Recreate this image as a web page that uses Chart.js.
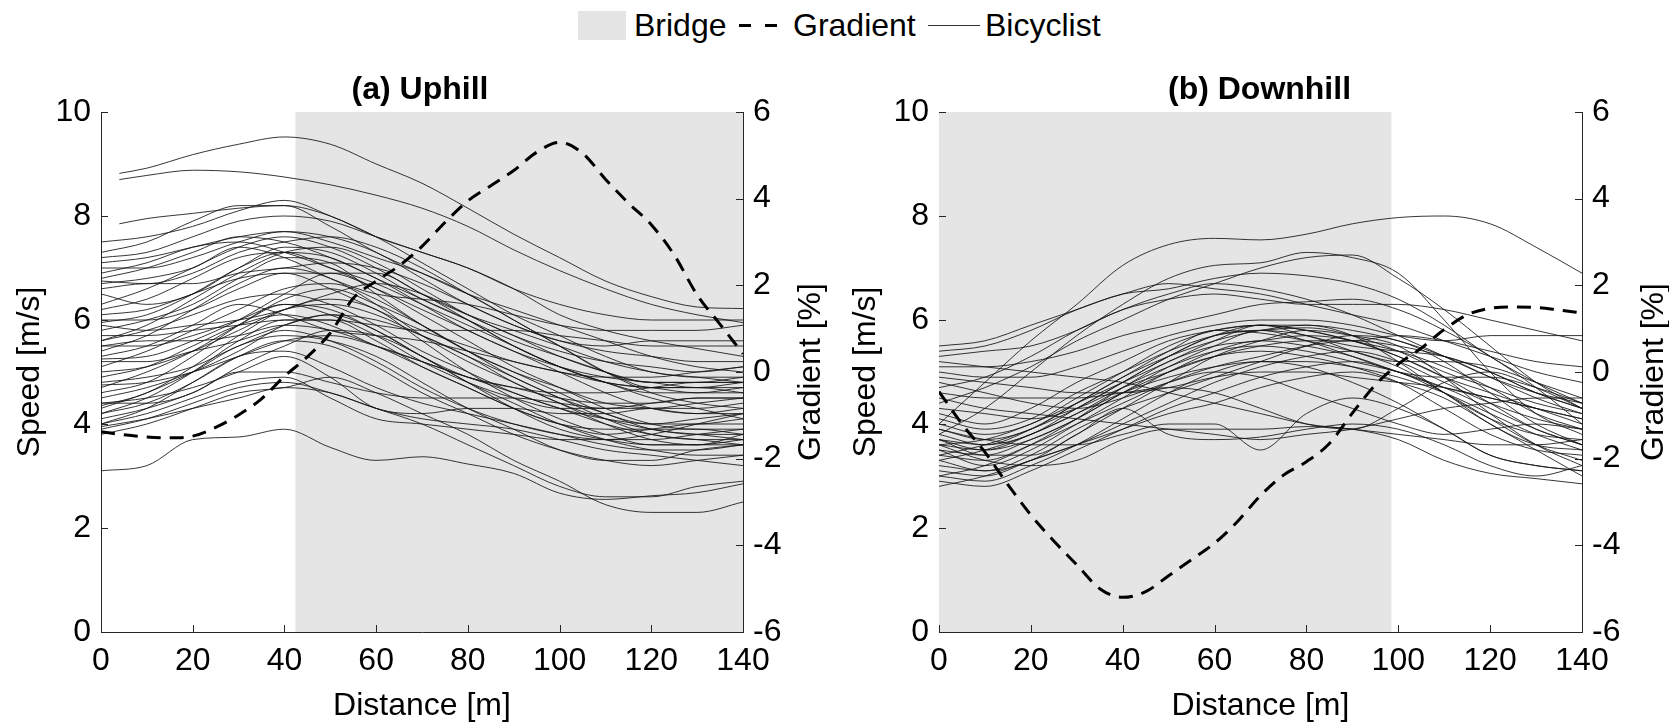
<!DOCTYPE html>
<html>
<head>
<meta charset="utf-8">
<script src="https://cdn.jsdelivr.net/npm/chart.js@4.4.1/dist/chart.umd.min.js"></script>
<style>
  html, body { margin: 0; padding: 0; background: #fff; }
  body { width: 1669px; height: 726px; position: relative; overflow: hidden; font-family: 'Liberation Sans', Arial, sans-serif; }
  canvas.panel { position: absolute; top: 0; }
  .key { position: absolute; }
  .key-text { position: absolute; top: 7px; height: 36px; line-height: 36px; font-size: 32px; color: #000; white-space: nowrap; }
</style>
</head>
<body>
<!-- shared legend above both panels -->
<div class="key" style="left:578px;top:11px;width:48px;height:29px;background:#e5e5e5"></div>
<div class="key-text" style="left:634px">Bridge</div>
<div class="key" style="left:739px;top:24px;width:12px;height:3px;background:#000"></div>
<div class="key" style="left:765px;top:24px;width:12px;height:3px;background:#000"></div>
<div class="key-text" style="left:793px">Gradient</div>
<div class="key" style="left:928px;top:25px;width:52px;height:1px;background:#333"></div>
<div class="key-text" style="left:985px">Bicyclist</div>

<canvas id="uphill" class="panel" style="left:0;width:840px;height:726px" width="840" height="726"></canvas>
<canvas id="downhill" class="panel" style="left:840px;width:829px;height:726px" width="829" height="726"></canvas>

<script>
// distance grids [m]
const DIST = [0, 10, 20, 30, 40, 50, 60, 70, 80, 90, 100, 110, 120, 130, 140];
const DIST_LATE = [4, 10, 20, 30, 40, 50, 60, 70, 80, 90, 100, 110, 120, 130, 140];
const GRAD_DIST = [0, 5, 10, 15, 20, 25, 30, 35, 40, 45, 50, 55, 60, 65, 70, 75, 80, 85, 90, 95, 100, 105, 110, 115, 120, 125, 130, 135, 140];

// bridge extent [m]
const BRIDGE_UP = [42.4, 140];
const BRIDGE_DOWN = [0, 98.5];

// gradient [%]
const GRADIENT_UP = [-1.38, -1.45, -1.5, -1.52, -1.48, -1.28, -0.99, -0.62, -0.1, 0.35, 0.9, 1.7, 2.1, 2.45, 2.9, 3.45, 3.95, 4.3, 4.65, 5.07, 5.3, 5.05, 4.45, 3.9, 3.4, 2.7, 1.78, 1.1, 0.42];
const GRADIENT_DOWN = [-0.45, -1.2, -1.85, -2.6, -3.3, -3.9, -4.45, -5.0, -5.2, -5.07, -4.7, -4.33, -3.95, -3.45, -2.85, -2.38, -2.07, -1.65, -0.95, -0.3, 0.18, 0.55, 0.98, 1.32, 1.47, 1.5, 1.49, 1.43, 1.36];

// uphill bicyclists that start a few metres in (on DIST_LATE)
const SPEED_UP_LATE = [
  [8.82, 8.92, 9.18, 9.38, 9.52, 9.38, 9.0, 8.63, 8.15, 7.65, 7.2, 6.75, 6.45, 6.25, 6.22],
  [8.7, 8.78, 8.88, 8.85, 8.75, 8.6, 8.4, 8.15, 7.8, 7.35, 6.95, 6.6, 6.3, 6.1, 5.95],
  [7.85, 7.95, 8.05, 8.15, 8.2, 8.0, 7.6, 7.3, 7.0, 6.6, 6.1, 5.8, 5.6, 5.45, 5.3]
];

// uphill bicyclists [m/s] on DIST
const SPEED_UP = [
  [7.5, 7.6, 7.8, 8.1, 8.3, 8.0, 7.6, 7.1, 6.6, 6.1, 5.7, 5.3, 5.0, 4.9, 4.8],
  [7.3, 7.5, 7.9, 8.2, 8.2, 7.8, 7.3, 6.9, 6.5, 6.2, 5.9, 5.6, 5.3, 5.1, 5.0],
  [7.2, 7.3, 7.6, 7.9, 8.0, 7.9, 7.6, 7.3, 7.0, 6.6, 6.3, 6.1, 6.0, 6.0, 6.0],
  [7.1, 7.2, 7.4, 7.6, 7.7, 7.5, 7.2, 6.9, 6.5, 6.0, 5.5, 5.0, 4.6, 4.4, 4.3],
  [7.0, 7.0, 7.2, 7.5, 7.7, 7.6, 7.3, 6.8, 6.3, 5.9, 5.6, 5.4, 5.3, 5.2, 5.2],
  [6.8, 7.0, 7.3, 7.6, 7.5, 7.2, 6.8, 6.3, 5.8, 5.4, 5.0, 4.6, 4.3, 4.2, 4.3],
  [6.75, 6.7, 6.9, 7.3, 7.5, 7.6, 7.4, 7.0, 6.5, 6.0, 5.5, 5.0, 4.8, 4.8, 4.9],
  [6.7, 6.8, 7.0, 7.4, 7.2, 6.8, 6.5, 6.4, 6.3, 6.1, 5.9, 5.8, 5.8, 5.8, 5.9],
  [6.6, 6.7, 6.7, 6.9, 7.0, 7.1, 7.0, 6.7, 6.3, 5.9, 5.6, 5.5, 5.6, 5.6, 5.6],
  [6.5, 6.3, 6.5, 7.0, 7.4, 7.3, 6.9, 6.4, 6.0, 5.6, 5.3, 5.0, 4.7, 4.7, 4.6],
  [6.9, 7.1, 7.4, 7.5, 7.3, 7.0, 6.7, 6.3, 5.9, 5.5, 5.1, 4.8, 4.6, 4.6, 4.7],
  [6.3, 6.6, 7.0, 7.4, 7.6, 7.4, 7.0, 6.5, 6.1, 5.8, 5.5, 5.2, 5.0, 4.9, 4.9],
  [6.2, 6.4, 6.8, 7.2, 7.3, 7.0, 6.6, 6.1, 5.6, 5.1, 4.7, 4.3, 4.0, 3.9, 3.9],
  [6.1, 6.2, 6.5, 6.8, 6.9, 6.6, 6.2, 5.8, 5.5, 5.2, 5.0, 4.8, 4.7, 4.7, 4.8],
  [6.0, 6.0, 6.2, 6.6, 6.9, 6.9, 6.6, 6.2, 5.8, 5.4, 5.1, 4.9, 4.8, 4.7, 4.7],
  [5.95, 6.1, 6.5, 7.0, 7.3, 7.2, 6.8, 6.4, 6.0, 5.5, 5.1, 4.8, 4.5, 4.3, 4.1],
  [5.9, 5.8, 5.9, 6.0, 6.2, 6.5, 6.7, 6.5, 6.1, 5.7, 5.4, 5.2, 5.1, 5.0, 5.1],
  [5.8, 6.0, 6.3, 6.8, 7.2, 7.1, 6.5, 5.9, 5.4, 5.0, 4.6, 4.2, 4.0, 4.1, 4.2],
  [5.7, 5.7, 5.8, 5.9, 6.0, 6.0, 5.9, 5.8, 5.8, 5.8, 5.7, 5.6, 5.5, 5.5, 5.5],
  [5.6, 5.8, 6.1, 6.4, 6.5, 6.3, 5.9, 5.4, 5.0, 4.6, 4.3, 4.0, 3.8, 3.7, 3.7],
  [5.6, 5.9, 6.4, 6.9, 7.3, 7.4, 7.1, 6.6, 6.1, 5.7, 5.3, 5.0, 4.8, 4.8, 4.8],
  [5.5, 5.5, 5.7, 6.0, 6.3, 6.2, 5.8, 5.3, 4.9, 4.7, 4.6, 4.6, 4.7, 4.8, 4.8],
  [5.5, 5.6, 5.6, 5.7, 5.9, 5.8, 5.5, 5.1, 4.7, 4.3, 4.0, 3.8, 3.9, 4.0, 4.0],
  [5.4, 5.7, 6.2, 6.7, 7.0, 6.8, 6.3, 5.7, 5.2, 4.8, 4.4, 4.1, 3.9, 3.8, 3.8],
  [5.3, 5.5, 5.9, 6.3, 6.1, 5.8, 5.7, 5.6, 5.4, 5.2, 5.0, 4.9, 4.9, 5.0, 5.1],
  [5.25, 5.3, 5.6, 6.0, 6.5, 6.9, 6.9, 6.5, 6.0, 5.5, 5.1, 4.8, 4.7, 4.6, 4.6],
  [5.2, 5.2, 5.4, 5.6, 5.9, 6.1, 6.0, 5.7, 5.3, 4.8, 4.4, 4.0, 3.7, 3.6, 3.6],
  [5.1, 5.4, 5.8, 6.2, 6.6, 6.7, 6.4, 5.9, 5.4, 5.0, 4.7, 4.4, 4.3, 4.2, 4.2],
  [5.0, 5.1, 5.4, 5.8, 6.2, 6.3, 6.1, 5.7, 5.3, 4.9, 4.5, 4.2, 3.9, 3.8, 3.7],
  [4.9, 5.1, 5.5, 5.9, 6.1, 5.9, 5.5, 5.2, 4.9, 4.7, 4.5, 4.4, 4.4, 4.5, 4.5],
  [4.8, 4.9, 5.1, 5.5, 5.8, 5.6, 5.2, 4.7, 4.3, 4.0, 3.8, 3.7, 3.7, 3.8, 3.9],
  [4.75, 4.8, 5.0, 5.3, 5.6, 5.7, 5.5, 5.2, 4.9, 4.6, 4.3, 4.1, 4.0, 4.0, 4.1],
  [4.7, 5.0, 5.4, 5.9, 6.3, 6.1, 5.7, 5.2, 4.8, 4.5, 4.3, 4.3, 4.4, 4.5, 4.5],
  [4.6, 4.8, 5.3, 5.9, 6.4, 6.6, 6.3, 5.9, 5.4, 4.9, 4.5, 4.1, 3.8, 3.7, 3.6],
  [4.5, 4.7, 5.0, 5.4, 5.9, 6.1, 5.8, 5.3, 4.8, 4.3, 3.9, 3.7, 3.6, 3.6, 3.7],
  [4.4, 4.5, 4.7, 5.0, 5.3, 4.9, 4.3, 4.2, 4.3, 4.3, 4.2, 4.2, 4.3, 4.3, 4.4],
  [4.4, 4.4, 4.6, 5.1, 5.5, 5.8, 5.7, 5.3, 4.8, 4.4, 4.0, 3.7, 3.5, 3.4, 3.4],
  [4.35, 4.6, 5.1, 5.7, 6.2, 6.4, 6.2, 5.6, 5.0, 4.5, 4.1, 3.8, 3.6, 3.6, 3.8],
  [4.3, 4.6, 5.0, 5.5, 5.7, 5.6, 5.3, 4.8, 4.3, 3.9, 3.5, 3.3, 3.3, 3.5, 3.6],
  [4.2, 4.4, 4.8, 5.3, 5.6, 5.5, 5.1, 4.6, 4.2, 3.8, 3.5, 3.3, 3.2, 3.3, 3.4],
  [4.2, 4.5, 5.0, 5.6, 6.0, 6.0, 5.6, 5.1, 4.7, 4.3, 4.0, 3.9, 3.9, 3.9, 3.8],
  [4.1, 4.3, 4.6, 5.0, 5.0, 4.8, 4.6, 4.5, 4.5, 4.5, 4.4, 4.3, 4.3, 4.4, 4.5],
  [4.0, 4.2, 4.5, 4.8, 4.9, 4.5, 4.1, 4.0, 3.9, 3.8, 3.7, 3.7, 3.8, 4.0, 4.2],
  [4.0, 4.3, 4.8, 5.3, 5.4, 5.1, 4.7, 4.4, 4.2, 4.0, 3.8, 3.6, 3.5, 3.5, 3.6],
  [3.95, 4.1, 4.3, 4.5, 4.7, 4.6, 4.3, 4.1, 4.0, 3.9, 3.7, 3.5, 3.4, 3.3, 3.2],
  [3.9, 4.1, 4.4, 4.7, 4.8, 4.6, 4.3, 4.0, 3.6, 3.2, 2.8, 2.6, 2.6, 2.8, 2.9],
  [3.8, 4.0, 4.3, 4.6, 4.7, 4.9, 4.6, 4.2, 3.8, 3.3, 2.9, 2.45, 2.3, 2.3, 2.5],
  [3.1, 3.2, 3.7, 3.75, 3.9, 3.55, 3.3, 3.37, 3.23, 3.05, 2.67, 2.55, 2.62, 2.68, 2.85]
];

// downhill bicyclists [m/s] on DIST
const SPEED_DOWN = [
  [4.0, 4.8, 5.6, 6.3, 7.05, 7.45, 7.57, 7.54, 7.65, 7.85, 7.97, 8.0, 7.85, 7.4, 6.9],
  [3.8, 4.3, 5.0, 5.7, 6.3, 6.8, 7.05, 7.1, 7.3, 7.2, 6.9, 6.0, 5.0, 4.2, 3.8],
  [4.4, 4.7, 5.1, 5.6, 6.0, 6.4, 6.7, 7.0, 7.2, 7.25, 6.8, 6.2, 5.5, 4.8, 4.3],
  [5.5, 5.6, 5.9, 6.2, 6.5, 6.6, 6.8, 6.9, 6.85, 6.7, 6.4, 5.9, 5.3, 4.8, 4.4],
  [5.4, 5.5, 5.8, 6.2, 6.5, 6.7, 6.6, 6.5, 6.3, 6.1, 5.9, 5.6, 5.3, 5.0, 4.8],
  [5.3, 5.4, 5.5, 5.8, 6.2, 6.4, 6.5, 6.4, 6.3, 6.3, 6.3, 6.2, 6.0, 5.8, 5.6],
  [5.1, 5.1, 5.2, 5.4, 5.7, 5.9, 6.1, 6.3, 6.35, 6.4, 6.2, 5.8, 5.3, 4.7, 4.0],
  [5.0, 4.9, 4.9, 5.1, 5.4, 5.7, 5.9, 6.0, 6.0, 5.9, 5.7, 5.6, 5.7, 5.7, 5.7],
  [4.9, 4.8, 4.7, 4.6, 4.6, 4.7, 4.9, 5.0, 5.0, 4.9, 4.8, 4.7, 4.5, 4.3, 4.1],
  [4.7, 4.9, 5.3, 5.8, 6.2, 6.5, 6.7, 6.6, 6.4, 6.1, 5.7, 5.3, 4.9, 4.6, 4.4],
  [4.2, 4.0, 4.3, 4.8, 5.2, 5.6, 5.8, 5.9, 5.8, 5.6, 5.3, 4.9, 4.6, 4.3, 4.0],
  [4.1, 3.9, 4.1, 4.6, 5.0, 5.4, 5.7, 5.8, 5.85, 5.7, 5.4, 5.0, 4.7, 4.4, 4.2],
  [4.0, 3.8, 4.0, 4.5, 5.0, 5.5, 5.8, 5.9, 5.7, 5.5, 5.4, 5.3, 5.0, 4.6, 4.3],
  [3.9, 3.7, 3.9, 4.4, 4.9, 5.3, 5.6, 5.8, 5.9, 5.7, 5.2, 4.6, 4.1, 3.8, 3.7],
  [3.8, 3.6, 3.8, 4.3, 4.8, 5.3, 5.7, 5.9, 5.8, 5.6, 5.4, 5.1, 4.7, 4.2, 3.9],
  [3.7, 3.6, 3.9, 4.4, 4.9, 5.4, 5.8, 5.75, 5.6, 5.4, 5.2, 5.2, 5.1, 4.8, 4.5],
  [3.7, 3.5, 3.7, 4.1, 4.6, 5.1, 5.5, 5.8, 5.7, 5.4, 5.1, 4.6, 4.0, 3.6, 3.5],
  [3.6, 3.5, 3.8, 4.2, 4.7, 5.2, 5.5, 5.6, 5.7, 5.6, 5.3, 4.9, 4.4, 3.9, 3.6],
  [3.6, 3.7, 4.0, 4.4, 4.8, 5.2, 5.6, 5.9, 5.9, 5.8, 5.6, 5.3, 4.9, 4.5, 4.2],
  [3.5, 3.4, 3.7, 4.1, 4.6, 5.0, 5.4, 5.6, 5.5, 5.3, 5.0, 4.7, 4.5, 4.3, 4.1],
  [3.5, 3.2, 3.5, 4.0, 4.5, 5.0, 5.3, 5.4, 5.3, 5.1, 4.8, 4.3, 3.8, 3.5, 3.4],
  [3.4, 3.3, 3.6, 4.0, 4.4, 4.8, 5.1, 5.3, 5.5, 5.6, 5.5, 5.3, 5.0, 4.6, 4.3],
  [3.4, 3.6, 3.9, 4.3, 4.8, 5.3, 5.7, 5.8, 5.6, 5.3, 5.0, 4.9, 4.9, 4.7, 4.4],
  [3.3, 3.5, 3.8, 4.2, 4.6, 4.9, 5.1, 5.2, 5.2, 5.1, 4.9, 4.6, 4.2, 3.8, 3.5],
  [3.3, 3.1, 3.3, 3.8, 4.3, 4.8, 5.3, 5.6, 5.8, 5.7, 5.5, 4.9, 4.2, 3.6, 3.2],
  [3.2, 3.1, 3.4, 3.9, 4.3, 4.6, 4.9, 5.2, 5.5, 5.7, 5.6, 5.2, 4.6, 4.0, 3.6],
  [3.1, 3.0, 3.3, 3.6, 4.0, 4.4, 4.8, 5.1, 5.3, 5.4, 5.2, 4.8, 4.4, 4.1, 3.9],
  [3.0, 3.2, 3.6, 4.1, 4.7, 5.1, 5.4, 5.5, 5.4, 5.2, 5.0, 4.7, 4.3, 3.9, 3.6],
  [3.0, 2.9, 3.2, 3.6, 4.1, 4.6, 5.0, 5.2, 5.1, 4.8, 4.4, 3.9, 3.4, 3.2, 3.1],
  [2.9, 2.8, 3.1, 3.5, 3.9, 4.3, 4.6, 4.9, 5.1, 5.2, 5.0, 4.6, 4.1, 3.6, 3.3],
  [2.8, 3.0, 3.3, 3.6, 3.9, 4.2, 4.4, 4.7, 4.9, 5.0, 4.8, 4.5, 4.0, 3.5, 3.0],
  [3.6, 3.3, 3.2, 3.3, 3.7, 3.9, 3.9, 3.9, 3.95, 3.9, 3.7, 3.3, 3.05, 2.95, 2.85],
  [3.7, 3.4, 3.4, 3.8, 4.3, 3.8, 3.7, 3.75, 3.9, 4.0, 3.9, 3.6, 3.2, 3.0, 3.2],
  [3.9, 3.7, 3.6, 3.6, 3.8, 4.0, 4.0, 3.5, 4.2, 4.5, 4.3, 3.9, 3.4, 3.2, 3.1],
  [4.5, 4.3, 4.2, 4.1, 4.0, 3.9, 3.8, 3.7, 3.8, 3.9, 4.1, 4.3, 4.4, 4.5, 4.5],
  [4.6, 4.5, 4.5, 4.5, 4.6, 4.7, 4.6, 4.3, 4.0, 3.9, 4.3, 4.8, 5.0, 4.7, 4.3],
  [4.8, 4.6, 4.4, 4.3, 4.5, 4.8, 5.0, 4.9, 4.6, 4.3, 4.0, 3.8, 3.9, 4.0, 3.9],
  [5.2, 5.1, 5.0, 4.9, 4.8, 4.6, 4.4, 4.2, 4.0, 3.9, 3.8, 3.7, 3.6, 3.6, 3.7],
  [4.3, 4.2, 4.1, 4.3, 4.7, 5.0, 5.3, 5.5, 5.6, 5.6, 5.7, 5.6, 5.4, 5.2, 5.1]
];

const FONT = "'Liberation Sans', Arial, sans-serif";
const AXIS = '#262626';
Chart.defaults.font.family = FONT;
Chart.defaults.color = '#000';

// grey bridge band, drawn behind the lines
const bridgePlugin = {
  id: 'bridge',
  beforeDatasetsDraw(chart, args, opts) {
    const {ctx, chartArea, scales} = chart;
    const x0 = scales.x.getPixelForValue(opts.range[0]);
    const x1 = scales.x.getPixelForValue(opts.range[1]);
    ctx.save();
    ctx.fillStyle = '#e5e5e5';
    ctx.fillRect(x0, chartArea.top, x1 - x0, chartArea.bottom - chartArea.top);
    ctx.restore();
  }
};

// inward tick marks (matlab style) and the right axis label read bottom-to-top
const axisExtras = {
  id: 'axisExtras',
  afterDraw(chart, args, opts) {
    const {ctx, chartArea, scales} = chart;
    ctx.save();
    ctx.strokeStyle = AXIS;
    ctx.lineWidth = 1;
    ctx.beginPath();
    scales.x.ticks.forEach(t => {
      const px = Math.round(scales.x.getPixelForValue(t.value)) + 0.5;
      ctx.moveTo(px, chartArea.bottom);
      ctx.lineTo(px, chartArea.bottom - 7);
    });
    scales.y.ticks.forEach(t => {
      const py = Math.round(scales.y.getPixelForValue(t.value)) + 0.5;
      ctx.moveTo(chartArea.left, py);
      ctx.lineTo(chartArea.left + 7, py);
    });
    scales.y2.ticks.forEach(t => {
      const py = Math.round(scales.y2.getPixelForValue(t.value)) + 0.5;
      ctx.moveTo(chartArea.right, py);
      ctx.lineTo(chartArea.right - 7, py);
    });
    ctx.stroke();

    ctx.fillStyle = '#000';
    ctx.font = '32px ' + FONT;
    ctx.textAlign = 'center';
    ctx.textBaseline = 'middle';
    ctx.translate(opts.titleX, (chartArea.top + chartArea.bottom) / 2);
    ctx.rotate(-Math.PI / 2);
    ctx.fillText('Gradient [%]', 0, 0);
    ctx.restore();
  }
};

function makePanel(id, title, bridge, gradient, rows, lateRows, cfg) {
  const datasets = [{
    label: 'Gradient',
    yAxisID: 'y2',
    data: GRAD_DIST.map((d, i) => ({x: d, y: gradient[i]})),
    borderColor: '#000',
    borderWidth: 3,
    borderDash: [14, 9],
    pointRadius: 0,
    cubicInterpolationMode: 'monotone'
  }];
  const addRider = (xs, row) => datasets.push({
    label: 'Bicyclist',
    yAxisID: 'y',
    data: xs.map((d, i) => ({x: d, y: row[i]})),
    borderColor: 'rgba(20,20,20,0.85)',
    borderWidth: 1,
    pointRadius: 0,
    cubicInterpolationMode: 'monotone'
  });
  lateRows.forEach(r => addRider(DIST_LATE, r));
  rows.forEach(r => addRider(DIST, r));

  const tickFont = {size: 32, family: FONT};
  const titleFont = {size: 32, family: FONT, lineHeight: 1};

  return new Chart(document.getElementById(id), {
    type: 'line',
    data: {datasets: datasets},
    options: {
      responsive: false,
      animation: false,
      events: [],
      layout: {padding: {top: 74, left: cfg.padLeft, right: 0, bottom: 0}},
      plugins: {
        legend: {display: false},
        tooltip: {enabled: false},
        title: {
          display: true,
          text: title,
          color: '#000',
          font: {size: 32, weight: 'bold', family: FONT, lineHeight: 1},
          padding: {top: 0, bottom: 6}
        },
        bridge: {range: bridge},
        axisExtras: {titleX: cfg.rightTitleX}
      },
      scales: {
        x: {
          type: 'linear',
          min: 0, max: 140,
          ticks: {stepSize: 20, font: tickFont, color: '#000', padding: 10, maxRotation: 0},
          grid: {drawOnChartArea: false, drawTicks: false},
          border: {color: AXIS, width: 1},
          title: {display: true, text: 'Distance [m]', font: titleFont, color: '#000', padding: {top: 0, bottom: 4}},
          afterFit: s => { s.height = 94; }
        },
        y: {
          position: 'left',
          min: 0, max: 10,
          ticks: {stepSize: 2, font: tickFont, color: '#000', padding: 10},
          grid: {drawOnChartArea: false, drawTicks: false},
          border: {color: AXIS, width: 1},
          title: {display: true, text: 'Speed [m/s]', font: titleFont, color: '#000', padding: {top: cfg.leftTitlePad, bottom: 0}},
          afterFit: s => { s.width = cfg.yWidth; }
        },
        y2: {
          position: 'right',
          min: -6, max: 6,
          ticks: {stepSize: 2, font: tickFont, color: '#000', padding: 10},
          grid: {drawOnChartArea: false, drawTicks: false},
          border: {color: AXIS, width: 1},
          afterFit: s => { s.width = cfg.y2Width; }
        }
      }
    },
    plugins: [bridgePlugin, axisExtras]
  });
}

makePanel('uphill', '(a) Uphill', BRIDGE_UP, GRADIENT_UP, SPEED_UP, SPEED_UP_LATE,
  {padLeft: 0, yWidth: 101, y2Width: 97, leftTitlePad: 14, rightTitleX: 811});
makePanel('downhill', '(b) Downhill', BRIDGE_DOWN, GRADIENT_DOWN, SPEED_DOWN, [],
  {padLeft: 10, yWidth: 89, y2Width: 87, leftTitlePad: 0, rightTitleX: 814});
</script>
</body>
</html>
